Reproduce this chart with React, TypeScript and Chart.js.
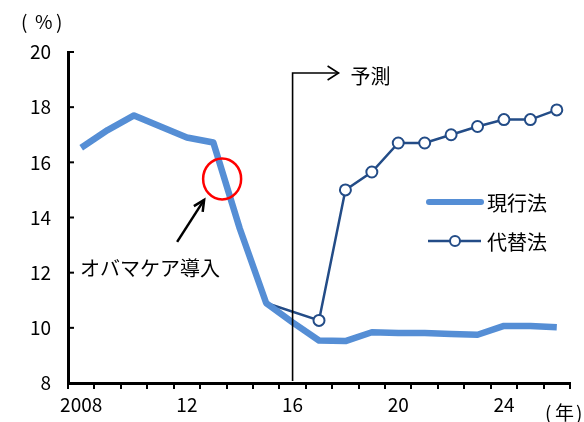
import React, { useEffect, useRef } from 'react';
import { Chart, registerables } from 'chart.js';

Chart.register(...registerables);

// Years on the horizontal axis (one category per year)
const years = [
  '2008', '2009', '2010', '2011', '2012', '2013', '2014', '2015', '2016', '2017',
  '2018', '2019', '2020', '2021', '2022', '2023', '2024', '2025', '2026',
];

// Years that get a tick label, and the text shown for them
const labeledYears = ['2008', '2012', '2016', '2020', '2024'];
const labelText = ['2008', '12', '16', '20', '24'];

// 現行法 (%)
const currentLaw = [
  16.53, 17.17, 17.7, 17.3, 16.9, 16.72, 13.6, 10.9, 10.2, 9.54,
  9.52, 9.84, 9.81, 9.81, 9.78, 9.75, 10.07, 10.07, 10.02,
];

// 代替法 (%) — branches off at 2015
const alternativeLaw: (number | null)[] = [
  null, null, null, null, null, null, null, 10.9, null, 10.27,
  15.0, 15.65, 16.7, 16.7, 17.0, 17.3, 17.55, 17.55, 17.9,
];

// Y axis range and step
const yMin = 8;
const yMax = 20;
const yStep = 2;

const CURRENT_COLOR = '#558ED5';
const ALT_COLOR = '#234C87';
const FONT = "'Noto Sans CJK JP', 'Noto Sans', sans-serif";

const decorations = {
  id: 'decorations',
  afterDraw(chart: Chart) {
    const { ctx, chartArea, scales } = chart;
    const x = scales.x;
    const y = scales.y;
    ctx.save();

    // inward tick marks on the value axis
    ctx.strokeStyle = '#000';
    ctx.lineWidth = 2;
    for (let v = yMin + yStep; v <= yMax; v += yStep) {
      const py = y.getPixelForValue(v);
      ctx.beginPath();
      ctx.moveTo(chartArea.left, py);
      ctx.lineTo(chartArea.left + 6, py);
      ctx.stroke();
    }

    // unit labels
    ctx.fillStyle = '#000';
    ctx.font = `19px ${FONT}`;
    ctx.textBaseline = 'middle';
    ctx.textAlign = 'left';
    ctx.fillText('(', 21, 22);
    ctx.fillText('%', 35, 22);
    ctx.fillText(')', 56, 22);
    ctx.fillText('(', 545, 413);
    ctx.fillText('年', 555, 413);
    ctx.fillText(')', 576, 413);

    // forecast marker: vertical line at 2016 with arrow to the right
    const fx = x.getPixelForValue(years.indexOf('2016'));
    const fy = 73;
    ctx.lineWidth = 1.6;
    ctx.beginPath();
    ctx.moveTo(fx, chartArea.bottom - 2);
    ctx.lineTo(fx, fy);
    ctx.lineTo(fx + 46, fy);
    ctx.stroke();
    ctx.beginPath();
    ctx.moveTo(fx + 35, fy - 7);
    ctx.lineTo(fx + 46, fy);
    ctx.lineTo(fx + 35, fy + 7);
    ctx.stroke();
    ctx.font = `20px ${FONT}`;
    ctx.fillText('予測', fx + 58, fy + 3);

    // red circle around the drop after 2013
    const cx = (x.getPixelForValue(5) * 2 + x.getPixelForValue(6)) / 3;
    const cy = y.getPixelForValue(15.4);
    ctx.strokeStyle = '#FF0000';
    ctx.lineWidth = 2.5;
    ctx.beginPath();
    ctx.ellipse(cx, cy, 19, 20.5, 0, 0, Math.PI * 2);
    ctx.stroke();

    // pointer arrow and caption
    const ax0 = cx - 45, ay0 = cy + 63;
    const ax1 = cx - 18, ay1 = cy + 21;
    ctx.strokeStyle = '#000';
    ctx.lineWidth = 2.5;
    ctx.beginPath();
    ctx.moveTo(ax0, ay0);
    ctx.lineTo(ax1, ay1);
    ctx.stroke();
    const ang = Math.atan2(ay1 - ay0, ax1 - ax0);
    const hl = 12;
    ctx.beginPath();
    ctx.moveTo(ax1 - hl * Math.cos(ang - 0.45), ay1 - hl * Math.sin(ang - 0.45));
    ctx.lineTo(ax1, ay1);
    ctx.lineTo(ax1 - hl * Math.cos(ang + 0.45), ay1 - hl * Math.sin(ang + 0.45));
    ctx.stroke();
    ctx.fillStyle = '#000';
    ctx.font = `20px ${FONT}`;
    ctx.fillText('オバマケア導入', 80, 268);

    // legend
    const lx = 427;
    const ly1 = 202;
    const ly2 = 241;
    ctx.lineCap = 'round';
    ctx.strokeStyle = CURRENT_COLOR;
    ctx.lineWidth = 6;
    ctx.beginPath();
    ctx.moveTo(lx + 2, ly1);
    ctx.lineTo(lx + 54, ly1);
    ctx.stroke();
    ctx.lineCap = 'butt';
    ctx.strokeStyle = ALT_COLOR;
    ctx.lineWidth = 2.5;
    ctx.beginPath();
    ctx.moveTo(lx + 1, ly2);
    ctx.lineTo(lx + 54, ly2);
    ctx.stroke();
    ctx.fillStyle = '#fff';
    ctx.lineWidth = 2;
    ctx.beginPath();
    ctx.arc(lx + 28, ly2, 5, 0, Math.PI * 2);
    ctx.fill();
    ctx.stroke();
    ctx.fillStyle = '#000';
    ctx.font = `20px ${FONT}`;
    ctx.fillText(chart.data.datasets[0].label as string, lx + 60, ly1 + 1);
    ctx.fillText(chart.data.datasets[1].label as string, lx + 60, ly2 + 1);

    ctx.restore();
  },
};

export default function App() {
  const canvasRef = useRef<HTMLCanvasElement | null>(null);

  useEffect(() => {
    if (!canvasRef.current) return;
    const chart = new Chart(canvasRef.current, {
      type: 'line',
      data: {
        labels: years,
        datasets: [
          {
            label: '現行法',
            data: currentLaw,
            borderColor: CURRENT_COLOR,
            backgroundColor: CURRENT_COLOR,
            borderWidth: 6.5,
            pointRadius: 0,
            tension: 0,
            borderJoinStyle: 'round',
          },
          {
            label: '代替法',
            data: alternativeLaw,
            borderColor: ALT_COLOR,
            backgroundColor: '#ffffff',
            borderWidth: 2.5,
            pointRadius: (c: any) => (c.dataIndex === years.indexOf('2015') ? 0 : 5.5),
            pointBorderWidth: 2,
            pointBackgroundColor: '#ffffff',
            pointBorderColor: ALT_COLOR,
            spanGaps: true,
            tension: 0,
          },
        ],
      },
      options: {
        animation: false,
        responsive: true,
        maintainAspectRatio: false,
        layout: { padding: { top: 52, right: 14, bottom: 0, left: 0 } },
        plugins: {
          legend: { display: false },
          tooltip: { enabled: false },
        },
        scales: {
          x: {
            type: 'category',
            offset: true,
            grid: {
              offset: true,
              drawOnChartArea: false,
              drawTicks: true,
              tickLength: 6,
              color: '#000',
              lineWidth: 2,
            },
            border: { display: true, color: '#000', width: 3 },
            ticks: {
              autoSkip: false,
              maxRotation: 0,
              padding: 4,
              color: '#000',
              font: { family: FONT, size: 19 },
              callback: (_v: any, i: number) => {
                const k = labeledYears.indexOf(years[i]);
                return k >= 0 ? labelText[k] : '';
              },
            },
            afterFit: (s: any) => {
              s.height = 39;
            },
          },
          y: {
            min: yMin,
            max: yMax,
            grid: { display: false, drawTicks: false },
            border: { display: true, color: '#000', width: 3 },
            ticks: {
              stepSize: yStep,
              padding: 17,
              color: '#000',
              font: { family: FONT, size: 19 },
            },
            afterFit: (s: any) => {
              s.width = 68;
            },
          },
        },
      },
      plugins: [decorations],
    });
    return () => chart.destroy();
  }, []);

  return (
    <div style={{ position: 'absolute', left: 0, top: 0, width: 584, height: 422, background: '#fff' }}>
      <canvas ref={canvasRef} />
    </div>
  );
}
